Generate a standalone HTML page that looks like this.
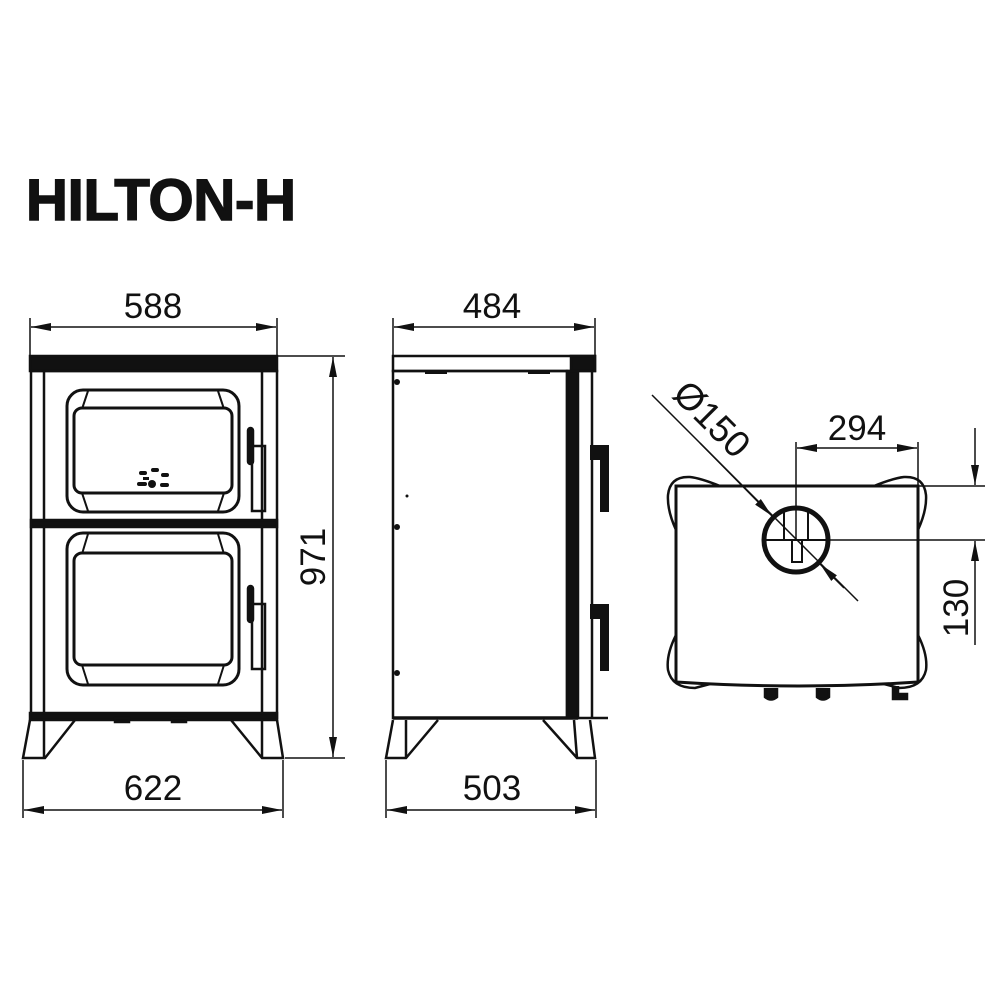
<!DOCTYPE html>
<html><head><meta charset="utf-8"><style>
html,body{margin:0;padding:0;background:#fff;}
svg{display:block}
text{font-family:"Liberation Sans",Arial,sans-serif;fill:#111}
</style></head><body>
<svg width="1000" height="1000" viewBox="0 0 1000 1000" xmlns="http://www.w3.org/2000/svg">
<defs>
<marker id="a" viewBox="0 0 20 10" refX="20" refY="5" markerWidth="20" markerHeight="10" markerUnits="userSpaceOnUse" orient="auto-start-reverse"><path d="M0,1 L20,5 L0,9 Z" fill="#111"/></marker>
</defs>
<rect width="1000" height="1000" fill="#fff"/>
<text x="26" y="220" font-size="58" font-weight="bold" stroke="#111" stroke-width="1.5" textLength="270">HILTON-H</text>

<!-- FRONT VIEW -->
<g stroke="#111" fill="none" stroke-width="2.5">
<rect x="30" y="356" width="247" height="15" fill="#111"/>
<rect x="31" y="371" width="246" height="347"/>
<line x1="44" y1="371" x2="44" y2="718"/>
<line x1="262" y1="371" x2="262" y2="718"/>
<rect x="31" y="520" width="246" height="7" fill="#111"/>
<rect x="30" y="713" width="247" height="7" fill="#111"/>
<rect x="115" y="718" width="14" height="4" fill="#111"/>
<rect x="172" y="718" width="14" height="4" fill="#111"/>
<path d="M30,720 L23,758 L45,758 L75,720"/>
<line x1="44" y1="720" x2="44" y2="758"/>
<path d="M277,720 L283,758 L262,758 L231,720"/>
<line x1="262" y1="720" x2="262" y2="758"/>
<rect x="67" y="390" width="172" height="122" rx="16" stroke-width="3"/>
<rect x="74" y="408" width="158" height="85" rx="8" stroke-width="3"/>
<path d="M88,391 L82,409 M218,391 L224,409 M88,511 L82,493 M218,511 L224,493" stroke-width="2"/>
<rect x="67" y="533" width="172" height="152" rx="16" stroke-width="3"/>
<rect x="74" y="553" width="158" height="112" rx="8" stroke-width="3"/>
<path d="M88,534 L82,554 M218,534 L224,554 M88,684 L82,665 M218,684 L224,665" stroke-width="2"/>
<rect x="248" y="428" width="5" height="36" rx="2.5" fill="#111"/>
<rect x="252" y="446" width="13" height="65"/>
<rect x="248" y="586" width="5" height="36" rx="2.5" fill="#111"/>
<rect x="252" y="604" width="13" height="65"/>
</g>
<g fill="#111">
<rect x="139" y="471" width="8" height="4" rx="2"/><rect x="151" y="468" width="8" height="4" rx="2"/><rect x="161" y="473" width="8" height="4" rx="2"/>
<rect x="137" y="482" width="10" height="4" rx="2"/><circle cx="152" cy="484" r="4"/><rect x="160" y="483" width="9" height="4" rx="2"/><rect x="143" y="477" width="6" height="3"/>
</g>

<g stroke="#111" stroke-width="1.5" fill="none">
<line x1="30" y1="318" x2="30" y2="356"/><line x1="277" y1="318" x2="277" y2="356"/>
<line x1="31" y1="327" x2="276" y2="327" marker-start="url(#a)" marker-end="url(#a)"/>
<line x1="23" y1="760" x2="23" y2="818"/><line x1="283" y1="760" x2="283" y2="818"/>
<line x1="24" y1="810" x2="282" y2="810" marker-start="url(#a)" marker-end="url(#a)"/>
<line x1="278" y1="356" x2="345" y2="356"/><line x1="285" y1="758" x2="345" y2="758"/>
<line x1="333" y1="357" x2="333" y2="757" marker-start="url(#a)" marker-end="url(#a)"/>
</g>
<text x="153" y="318" font-size="35" text-anchor="middle">588</text>
<text x="153" y="800" font-size="35" text-anchor="middle">622</text>
<text x="0" y="0" font-size="35" text-anchor="middle" transform="translate(325,557) rotate(-90)">971</text>

<!-- SIDE VIEW -->
<g stroke="#111" fill="none" stroke-width="2.5">
<rect x="393" y="356" width="202" height="15"/>
<rect x="571" y="356" width="24" height="15" fill="#111"/>
<rect x="393" y="371" width="174" height="347"/>
<rect x="567" y="371" width="11" height="347" fill="#111"/>
<line x1="592" y1="371" x2="592" y2="718"/>
<line x1="578" y1="718" x2="608" y2="718"/>
<line x1="393" y1="718" x2="578" y2="718" stroke-width="3.5"/>
<rect x="425" y="371" width="22" height="3" fill="#111" stroke="none"/>
<rect x="528" y="371" width="22" height="3" fill="#111" stroke="none"/>
<rect x="590" y="445" width="19" height="15" fill="#111" stroke="none"/>
<rect x="600" y="445" width="9" height="67" fill="#111" stroke="none"/>
<rect x="590" y="604" width="19" height="15" fill="#111" stroke="none"/>
<rect x="600" y="604" width="9" height="67" fill="#111" stroke="none"/>
<path d="M393,720 L386,758 L406,758 L438,720"/>
<line x1="406" y1="720" x2="406" y2="758"/>
<path d="M590,720 L595,758 L577,758 L543,720"/>
<line x1="574" y1="720" x2="577" y2="758"/>
</g>
<g fill="#111"><circle cx="397" cy="382" r="3"/><circle cx="397" cy="527" r="3"/><circle cx="397" cy="673" r="3"/><circle cx="407" cy="496" r="1.5"/></g>
<g stroke="#111" stroke-width="1.5" fill="none">
<line x1="393" y1="318" x2="393" y2="356"/><line x1="595" y1="318" x2="595" y2="356"/>
<line x1="394" y1="327" x2="594" y2="327" marker-start="url(#a)" marker-end="url(#a)"/>
<line x1="386" y1="760" x2="386" y2="818"/><line x1="596" y1="760" x2="596" y2="818"/>
<line x1="387" y1="810" x2="595" y2="810" marker-start="url(#a)" marker-end="url(#a)"/>
</g>
<text x="492" y="318" font-size="35" text-anchor="middle">484</text>
<text x="492" y="800" font-size="35" text-anchor="middle">503</text>

<!-- TOP VIEW -->
<g stroke="#111" fill="none" stroke-width="2.5">
<path d="M676,486 L918,486 L918,682 Q800,690 676,682 Z" stroke-width="3"/>
<path d="M720,486 Q700,478 690,477 Q670,476 668,495 Q667,510 676,530"/>
<path d="M874,486 Q894,478 904,477 Q924,476 926,495 Q927,510 918,530"/>
<path d="M676,635 Q666,655 668,670 Q672,688 695,688 L710,684"/>
<path d="M918,635 Q928,655 926,670 Q922,688 899,688 L884,684"/>
<circle cx="796" cy="540" r="32" stroke-width="5"/>
<line x1="766" y1="540" x2="826" y2="540" stroke-width="2"/>
<line x1="784" y1="511" x2="784" y2="540" stroke-width="2"/>
<line x1="808" y1="511" x2="808" y2="540" stroke-width="2"/>
<rect x="792" y="540" width="10" height="22" stroke-width="2"/>
<path d="M765,688 L765,697 Q771,702 777,697 L777,688" fill="#111"/>
<path d="M817,688 L817,697 Q823,702 829,697 L829,688" fill="#111"/>
<path d="M893,686 L893,699 L907,699 L907,694 L898,694 L898,686" fill="#111"/>
</g>
<g stroke="#111" stroke-width="1.5" fill="none">
<line x1="652" y1="395" x2="858" y2="601"/>
<line x1="700" y1="443" x2="772" y2="516" marker-end="url(#a)"/>
<line x1="844" y1="588" x2="820" y2="564" marker-end="url(#a)"/>
<line x1="796" y1="442" x2="796" y2="540"/>
<line x1="918" y1="442" x2="918" y2="486"/>
<line x1="797" y1="448" x2="917" y2="448" marker-start="url(#a)" marker-end="url(#a)"/>
<line x1="918" y1="486" x2="985" y2="486"/>
<line x1="826" y1="540" x2="985" y2="540"/>
<line x1="975" y1="428" x2="975" y2="485" marker-end="url(#a)"/>
<line x1="975" y1="645" x2="975" y2="541" marker-end="url(#a)"/>
</g>
<text x="857" y="440" font-size="35" text-anchor="middle">294</text>
<text x="0" y="0" font-size="35" text-anchor="middle" transform="translate(968,608) rotate(-90)">130</text>
<text x="0" y="0" font-size="37" text-anchor="middle" transform="translate(703,428) rotate(45)">Ø150</text>
</svg>
</body></html>
